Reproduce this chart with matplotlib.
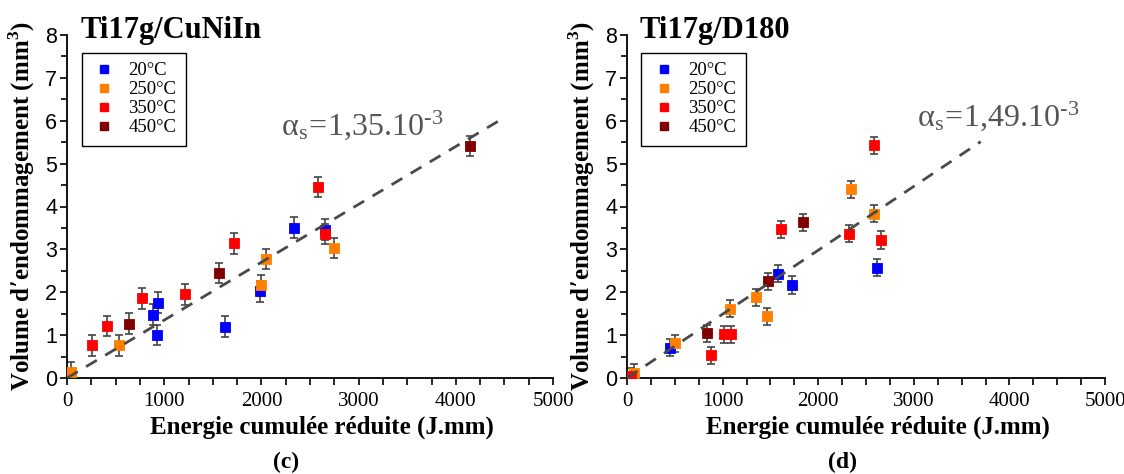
import matplotlib
matplotlib.use("Agg")
import matplotlib.pyplot as plt
from matplotlib.ticker import MultipleLocator, FuncFormatter
from matplotlib.lines import Line2D

# ---------------- data ----------------
series_labels = ["20°C", "250°C", "350°C", "450°C"]
series_colors = ["#0000ff", "#ff8000", "#ff0000", "#800000"]

# Panel (c) Ti17g/CuNiIn
c_x20 = [884, 937, 930, 1627, 1985, 2335, 2659]
c_y20 = [1.48, 1.76, 1.00, 1.20, 2.02, 3.51, 3.46]
c_x250 = [40, 533, 1996, 2046, 2747]
c_y250 = [0.14, 0.76, 2.16, 2.78, 3.03]
c_x350 = [259, 408, 773, 1211, 1718, 2583, 2659]
c_y350 = [0.76, 1.21, 1.86, 1.95, 3.14, 4.45, 3.36]
c_x450 = [640, 1566, 4149]
c_y450 = [1.27, 2.45, 5.41]
c_err = 0.24
c_slope = 1.35e-3
c_fit_range = [0, 4500]
c_title = "Ti17g/CuNiIn"
c_alpha = "$\\mathregular{\\alpha_s\\!=\\!1{,}35.10^{\u20103}}$"

# Panel (d) Ti17g/D180
d_x20 = [455, 1583, 1728, 2620]
d_y20 = [0.71, 2.43, 2.17, 2.57]
d_x250 = [70, 497, 1082, 1354, 1461, 2344, 2581]
d_y250 = [0.12, 0.81, 1.62, 1.88, 1.44, 4.40, 3.83]
d_x350 = [40, 883, 1013, 1086, 1614, 2321, 2581, 2658]
d_y350 = [0.04, 0.53, 1.02, 1.02, 3.47, 3.37, 5.43, 3.22]
d_x450 = [837, 1480, 1836]
d_y450 = [1.04, 2.26, 3.63]
d_err = 0.2
d_slope = 1.49e-3
d_fit_range = [0, 3700]
d_title = "Ti17g/D180"
d_alpha = "$\\mathregular{\\alpha_s\\!=\\!1{,}49.10^{\u20103}}$"

x_ticks = [0, 1000, 2000, 3000, 4000, 5000]
y_ticks = [0, 1, 2, 3, 4, 5, 6, 7, 8]

SERIF = "Liberation Serif"
SANS = "Liberation Sans"

fig = plt.figure(figsize=(11.24, 4.74), dpi=100)
ax_c = fig.add_axes([67 / 1124, 96 / 474, 486 / 1124, 343 / 474])
ax_d = fig.add_axes([627 / 1124, 96 / 474, 478 / 1124, 343 / 474])


def draw_panel(ax, xs, ys, err, slope, fit_range, title, alpha_txt, alpha_pos, label_letter):
    for x, y, col in zip(xs, ys, series_colors):
        ax.errorbar(x, y, yerr=err, fmt="none", ecolor="#444444", elinewidth=1.2,
                    capsize=3.2, capthick=1.2, zorder=2)
        ax.plot(x, y, linestyle="none", marker="s", markersize=7.5, color=col,
                markeredgecolor=col, markeredgewidth=0.6, zorder=3)
    fx = fit_range
    fy = [slope * v for v in fx]
    ax.plot(fx, fy, linestyle=(0, (4.5, 3.5)), color="#4a4a4a", linewidth=2.0, zorder=4)

    ax.set_xlim(0, 5000)
    ax.set_ylim(0, 8)
    ax.spines["top"].set_visible(False)
    ax.spines["right"].set_visible(False)
    for s in ("left", "bottom"):
        ax.spines[s].set_linewidth(1.3)
    ax.xaxis.set_major_locator(MultipleLocator(500))
    ax.xaxis.set_minor_locator(MultipleLocator(250))
    ax.xaxis.set_major_formatter(FuncFormatter(lambda v, p: f"{int(v)}" if int(v) in x_ticks else ""))
    ax.set_yticks(y_ticks)
    ax.yaxis.set_minor_locator(MultipleLocator(0.5))
    ax.tick_params(axis="both", which="both", direction="out", width=1.2)
    ax.tick_params(axis="x", which="major", length=5, pad=5, labelsize=15,
                   labelfontfamily=SERIF)
    ax.tick_params(axis="x", which="minor", length=5)
    ax.tick_params(axis="y", which="major", length=5, pad=2, labelsize=15.5,
                   labelfontfamily=SANS)
    ax.tick_params(axis="y", which="minor", length=4)

    ax.set_xlabel("Energie cumulée réduite (J.mm)", fontfamily=SERIF, fontweight="bold",
                  fontsize=18)
    ax.xaxis.set_label_coords(0.525, -0.11)
    ax.set_ylabel("Volume d’endommagement (mm$^\\mathregular{3}$)", fontfamily=SERIF,
                  fontweight="bold", fontsize=18)
    ax.yaxis.set_label_coords(-0.062, 0.5)

    ax.text(0.027, 0.99, title, transform=ax.transAxes, fontfamily=SERIF,
            fontweight="bold", fontsize=22, va="baseline", ha="left")
    ax.text(alpha_pos[0], alpha_pos[1], alpha_txt, fontfamily=SERIF, fontsize=23,
            color="#555555", va="baseline", ha="left")
    ax.text(0.45, -0.245, label_letter, transform=ax.transAxes, fontfamily=SERIF,
            fontweight="bold", fontsize=17, ha="center", va="center")

    handles = [Line2D([], [], linestyle="none", marker="s", markersize=5.5, color=c,
                      markeredgecolor=c) for c in series_colors]
    leg = ax.legend(handles, series_labels, loc="upper left", bbox_to_anchor=(0.03, 0.948),
                    prop={"family": SERIF, "size": 13.5}, frameon=True, fancybox=False,
                    edgecolor="black", framealpha=1, handlelength=1.4, handletextpad=0.6,
                    labelspacing=0.1, borderpad=0.5, borderaxespad=0)
    leg.get_frame().set_linewidth(1.0)


draw_panel(ax_c,
           [c_x20, c_x250, c_x350, c_x450], [c_y20, c_y250, c_y350, c_y450],
           c_err, c_slope, c_fit_range, c_title, c_alpha, (2200, 5.67), "(c)")
draw_panel(ax_d,
           [d_x20, d_x250, d_x350, d_x450], [d_y20, d_y250, d_y350, d_y450],
           d_err, d_slope, d_fit_range, d_title, d_alpha, (3030, 5.88), "(d)")

fig.savefig("out.png", dpi=100)
